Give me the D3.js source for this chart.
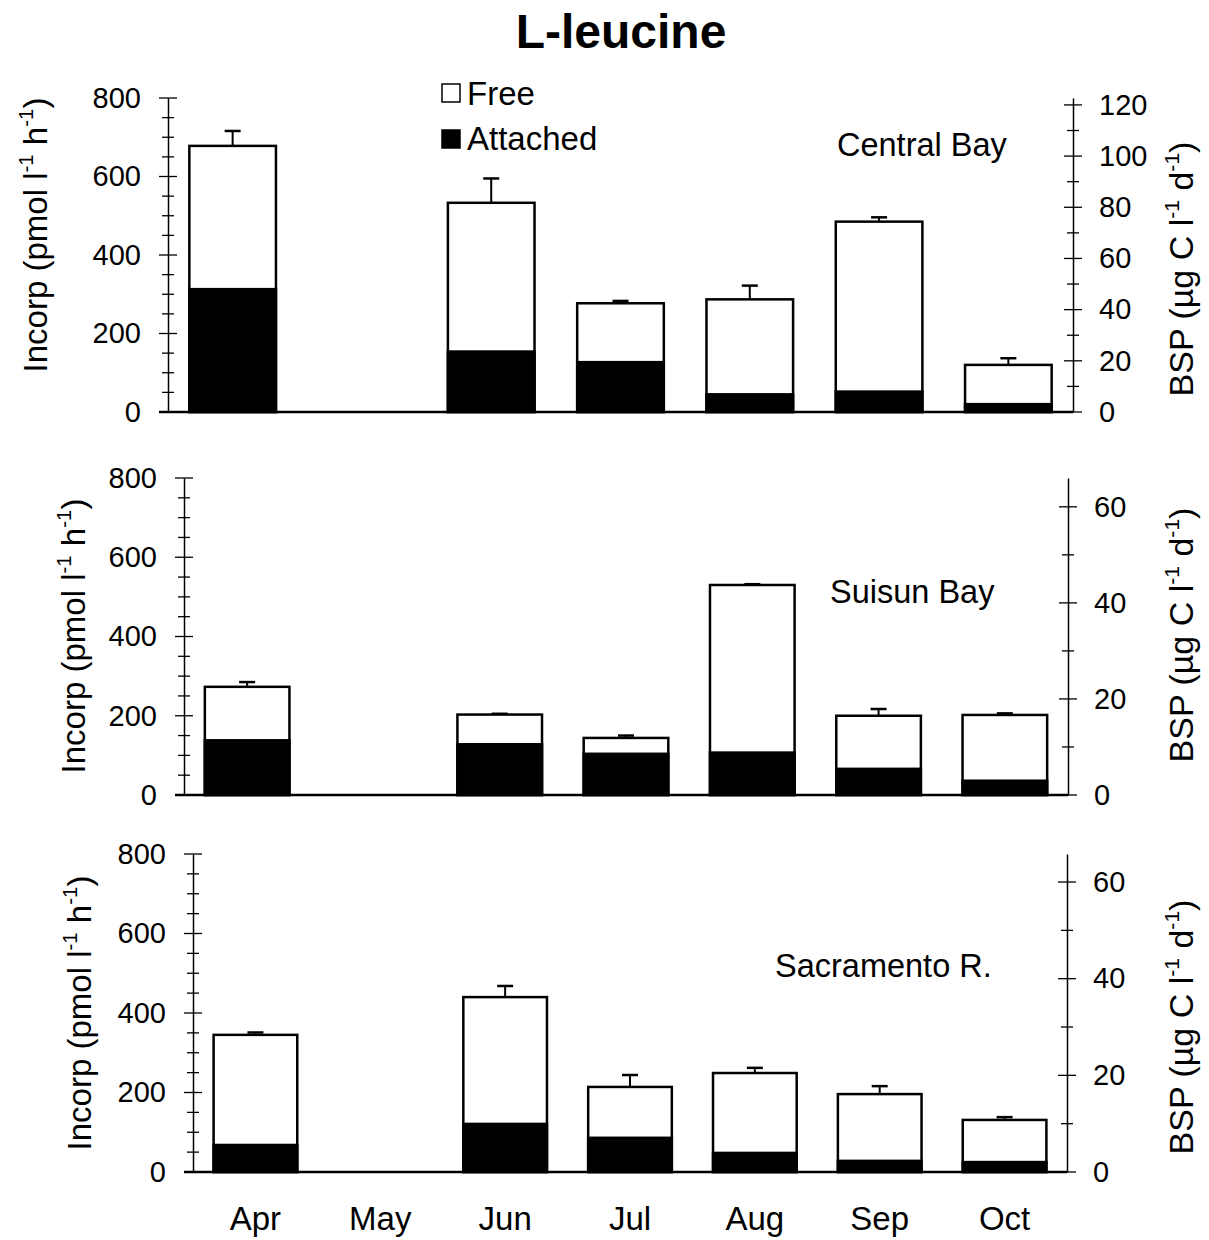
<!DOCTYPE html>
<html>
<head>
<meta charset="utf-8">
<script src="https://cdn.jsdelivr.net/npm/d3@7"></script>
<style>
  body { margin: 0; background: #fff; }
  svg { font-family: "Liberation Sans", Arial, sans-serif; }
</style>
</head>
<body>
<svg width="1209" height="1240"></svg>
<script>
const width = 1209, height = 1240;
const svg = d3.select("svg");

// data (pmol l-1 h-1), null = no sample
const months = ["Apr", "May", "Jun", "Jul", "Aug", "Sep", "Oct"];

const cbTotal    = [678, null, 533, 277, 287, 485, 120];
const cbAttached = [313, null, 154, 127, 45, 52, 20];
const cbErr      = [38, null, 62, 6, 35, 11, 17];

const sbTotal    = [273, null, 203, 144, 530, 200, 202];
const sbAttached = [138, null, 128, 104, 107, 66, 36];
const sbErr      = [12, null, 2, 6, 2, 17, 4];

const srTotal    = [345, null, 440, 214, 249, 196, 131];
const srAttached = [68, null, 121, 86, 48, 28, 25];
const srErr      = [6, null, 28, 30, 13, 20, 7];

const incorpTicks = [0, 200, 400, 600, 800];
const cbBspTicks = [0, 20, 40, 60, 80, 100, 120];
const bspTicks = [0, 20, 40, 60];

const panels = [
  { name: "Central Bay", total: cbTotal, attached: cbAttached, err: cbErr,
    bspMax: 122.7, bspTicks: cbBspTicks,
    x0: 168, x1: 1073, yTop: 98, yZero: 412,
    label: [837, 156], leftTitle: [36, 235], rightTitle: [1182, 269] },
  { name: "Suisun Bay", total: sbTotal, attached: sbAttached, err: sbErr,
    bspMax: 66, bspTicks: bspTicks,
    x0: 184, x1: 1068, yTop: 478, yZero: 795,
    label: [830, 603], leftTitle: [74, 636], rightTitle: [1182, 635] },
  { name: "Sacramento R.", total: srTotal, attached: srAttached, err: srErr,
    bspMax: 65.8, bspTicks: bspTicks,
    x0: 193, x1: 1067, yTop: 854, yZero: 1172,
    label: [775, 977], leftTitle: [80, 1013], rightTitle: [1182, 1027] }
];

// title
svg.append("text")
  .attr("x", 621).attr("y", 48)
  .attr("text-anchor", "middle")
  .attr("font-size", 48).attr("font-weight", "bold")
  .text("L-leucine");

// legend
const legend = svg.append("g");
[["Free", "#fff", 84, 105], ["Attached", "#000", 130, 150]].forEach(([t, c, ry, ty]) => {
  legend.append("rect").attr("x", 442).attr("y", ry).attr("width", 18).attr("height", 18)
    .attr("fill", c).attr("stroke", "#000").attr("stroke-width", 1.5);
  legend.append("text").attr("x", 467).attr("y", ty).attr("font-size", 33).text(t);
});

function unitTitle(g, parts, fs) {
  // parts: [text, isSuper]
  const t = g.append("text").attr("font-size", fs).attr("text-anchor", "middle");
  let up = false;
  parts.forEach(([s, sup]) => {
    const ts = t.append("tspan").text(s);
    if (sup && !up) { ts.attr("dy", -fs * 0.42).attr("font-size", fs * 0.62); up = true; }
    else if (!sup && up) { ts.attr("dy", fs * 0.42); up = false; }
    else if (sup) ts.attr("font-size", fs * 0.62);
  });
  return t;
}

panels.forEach((p, i) => {
  const g = svg.append("g");
  const x = d3.scaleBand().domain(months).range([p.x0, p.x1]).paddingInner(0.33).paddingOuter(0.165);
  const y = d3.scaleLinear().domain([0, 800]).range([p.yZero, p.yTop]);
  const y2 = d3.scaleLinear().domain([0, p.bspMax]).range([p.yZero, p.yTop]);

  const rows = months.map((m, j) => ({ m, total: p.total[j], att: p.attached[j], err: p.err[j] }))
    .filter(d => d.total != null);

  // error bars (behind bars)
  rows.forEach(d => {
    const cx = x(d.m) + x.bandwidth() / 2;
    g.append("line").attr("x1", cx).attr("x2", cx)
      .attr("y1", y(d.total)).attr("y2", y(d.total + d.err))
      .attr("stroke", "#000").attr("stroke-width", 2);
    g.append("line").attr("x1", cx - 8).attr("x2", cx + 8)
      .attr("y1", y(d.total + d.err)).attr("y2", y(d.total + d.err))
      .attr("stroke", "#000").attr("stroke-width", 2.5);
  });

  // free (total) bars
  g.selectAll(".tot").data(rows).enter().append("rect")
    .attr("x", d => x(d.m)).attr("width", x.bandwidth())
    .attr("y", d => y(d.total)).attr("height", d => y(0) - y(d.total))
    .attr("fill", "#fff").attr("stroke", "#000").attr("stroke-width", 2.5);

  // attached bars
  g.selectAll(".att").data(rows).enter().append("rect")
    .attr("x", d => x(d.m)).attr("width", x.bandwidth())
    .attr("y", d => y(d.att)).attr("height", d => y(0) - y(d.att))
    .attr("fill", "#000").attr("stroke", "#000").attr("stroke-width", 2.5);

  // left axis
  const la = g.append("g").attr("transform", `translate(${p.x0},0)`)
    .call(d3.axisLeft(y).tickValues(incorpTicks).tickSize(0).tickPadding(27));
  la.select(".domain").attr("stroke-width", 1.5);
  la.selectAll("text").attr("font-size", 29).attr("fill", "#000")
    .attr("font-family", "Liberation Sans, Arial, sans-serif");
  la.selectAll(".mt").data(d3.range(0, 801, 50)).enter().append("line")
    .attr("x1", v => v % 200 === 0 ? -9 : -6).attr("x2", v => v % 200 === 0 ? 9 : 6)
    .attr("y1", v => y(v)).attr("y2", v => y(v))
    .attr("stroke", "#000").attr("stroke-width", 1.3);

  // right axis
  const ra = g.append("g").attr("transform", `translate(${p.x1},0)`)
    .call(d3.axisRight(y2).tickValues(p.bspTicks).tickSize(0).tickPadding(26));
  ra.select(".domain").attr("stroke-width", 1.5);
  ra.selectAll("text").attr("font-size", 29).attr("fill", "#000")
    .attr("font-family", "Liberation Sans, Arial, sans-serif");
  const bMax = p.bspTicks[p.bspTicks.length - 1];
  ra.selectAll(".mt").data(d3.range(0, bMax + 1, 10)).enter().append("line")
    .attr("x1", v => v % 20 === 0 ? -9 : -6).attr("x2", v => v % 20 === 0 ? 9 : 6)
    .attr("y1", v => y2(v)).attr("y2", v => y2(v))
    .attr("stroke", "#000").attr("stroke-width", 1.3);

  // baseline
  g.append("line").attr("x1", p.x0 - 9).attr("x2", p.x1)
    .attr("y1", p.yZero).attr("y2", p.yZero)
    .attr("stroke", "#000").attr("stroke-width", 2.5);

  // panel label
  g.append("text").attr("x", p.label[0]).attr("y", p.label[1])
    .attr("font-size", 32.5).text(p.name);

  // axis titles
  const lt = g.append("g").attr("transform", `translate(${p.leftTitle[0] + 11},${p.leftTitle[1]}) rotate(-90)`);
  unitTitle(lt, [["Incorp (pmol l", false], ["-1", true], [" h", false], ["-1", true], [")", false]], 33);
  const rt = g.append("g").attr("transform", `translate(${p.rightTitle[0] + 11},${p.rightTitle[1]}) rotate(-90)`);
  unitTitle(rt, [["BSP (µg C l", false], ["-1", true], [" d", false], ["-1", true], [")", false]], 34);

  // month labels on the bottom panel
  if (i === panels.length - 1) {
    g.selectAll(".ml").data(months).enter().append("text")
      .attr("x", m => x(m) + x.bandwidth() / 2).attr("y", 1230)
      .attr("text-anchor", "middle").attr("font-size", 33)
      .text(m => m);
  }
});
</script>
</body>
</html>
